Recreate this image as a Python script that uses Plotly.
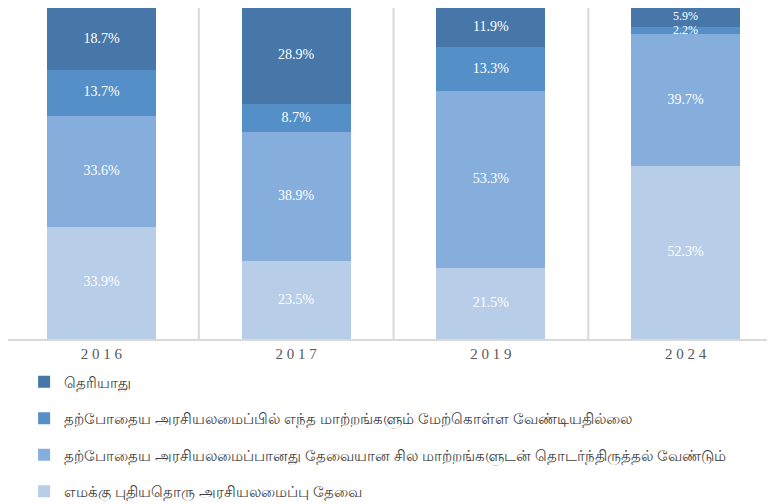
import plotly.graph_objects as go

years = ["2 0 1 6", "2 0 1 7", "2 0 1 9", "2 0 2 4"]
series_names = [
    "எமக்கு புதியதொரு அரசியலமைப்பு தேவை",
    "தற்போதைய அரசியலமைப்பானது தேவையான சில மாற்றங்களுடன் தொடர்ந்திருத்தல் வேண்டும்",
    "தற்போதைய அரசியலமைப்பில் எந்த மாற்றங்களும் மேற்கொள்ள வேண்டியதில்லை",
    "தெரியாது",
]
new_constitution = [33.9, 23.5, 21.5, 52.3]
some_changes = [33.6, 38.9, 53.3, 39.7]
no_changes = [13.7, 8.7, 13.3, 2.2]
dont_know = [18.7, 28.9, 11.9, 5.9]
colors = ["#B8CDE8", "#85AEDC", "#558FC8", "#4677A8"]

all_series = [new_constitution, some_changes, no_changes, dont_know]

fig = go.Figure()
for i, (name, vals) in enumerate(zip(series_names, all_series)):
    fig.add_trace(go.Bar(
        x=years, y=vals, name=name, legendgroup=f"g{i}", legendrank=10 - i,
        marker=dict(color=colors[i], line=dict(width=0)),
        hoverinfo="skip",
    ))

# data labels at segment midpoints (slightly smaller in very thin segments)
base = [0.0] * len(years)
for vals in all_series:
    mids = [b + v / 2 for b, v in zip(base, vals)]
    sizes = [12 if v < 8 else 14 for v in vals]
    fig.add_trace(go.Scatter(
        x=years, y=mids, mode="text", text=[f"{v:.1f}%" for v in vals],
        textfont=dict(family="Liberation Serif", size=sizes, color="white"),
        showlegend=False, hoverinfo="skip", cliponaxis=False,
    ))
    base = [b + v for b, v in zip(base, vals)]

fig.update_layout(
    width=767, height=496,
    barmode="stack", bargap=0.44,
    margin=dict(l=0, r=0, t=0, b=165, autoexpand=False),
    plot_bgcolor="white", paper_bgcolor="white",
    showlegend=True,
    legend=dict(
        orientation="v", x=0.021, xanchor="left", y=-0.08, yanchor="top",
        traceorder="grouped", tracegroupgap=14,
        font=dict(family="Noto Sans", size=15, color="#404040"),
        itemwidth=30,
    ),
    xaxis=dict(
        range=[-0.48, 3.459],
        showgrid=False, showline=True, linecolor="#D9D9D9", linewidth=2,
        ticks="", tickfont=dict(family="Liberation Serif", size=15, color="#595959"),
    ),
    yaxis=dict(range=[0, 100], showgrid=False, showticklabels=False, zeroline=False,
               showline=True, linecolor="#D9D9D9", linewidth=2, ticks=""),
)

for b in [0.5, 1.5, 2.5]:
    fig.add_shape(type="line", xref="x", yref="paper", x0=b, x1=b, y0=0, y1=1.0,
                  line=dict(color="#D9D9D9", width=2), layer="below")

fig.write_html("out.html")
